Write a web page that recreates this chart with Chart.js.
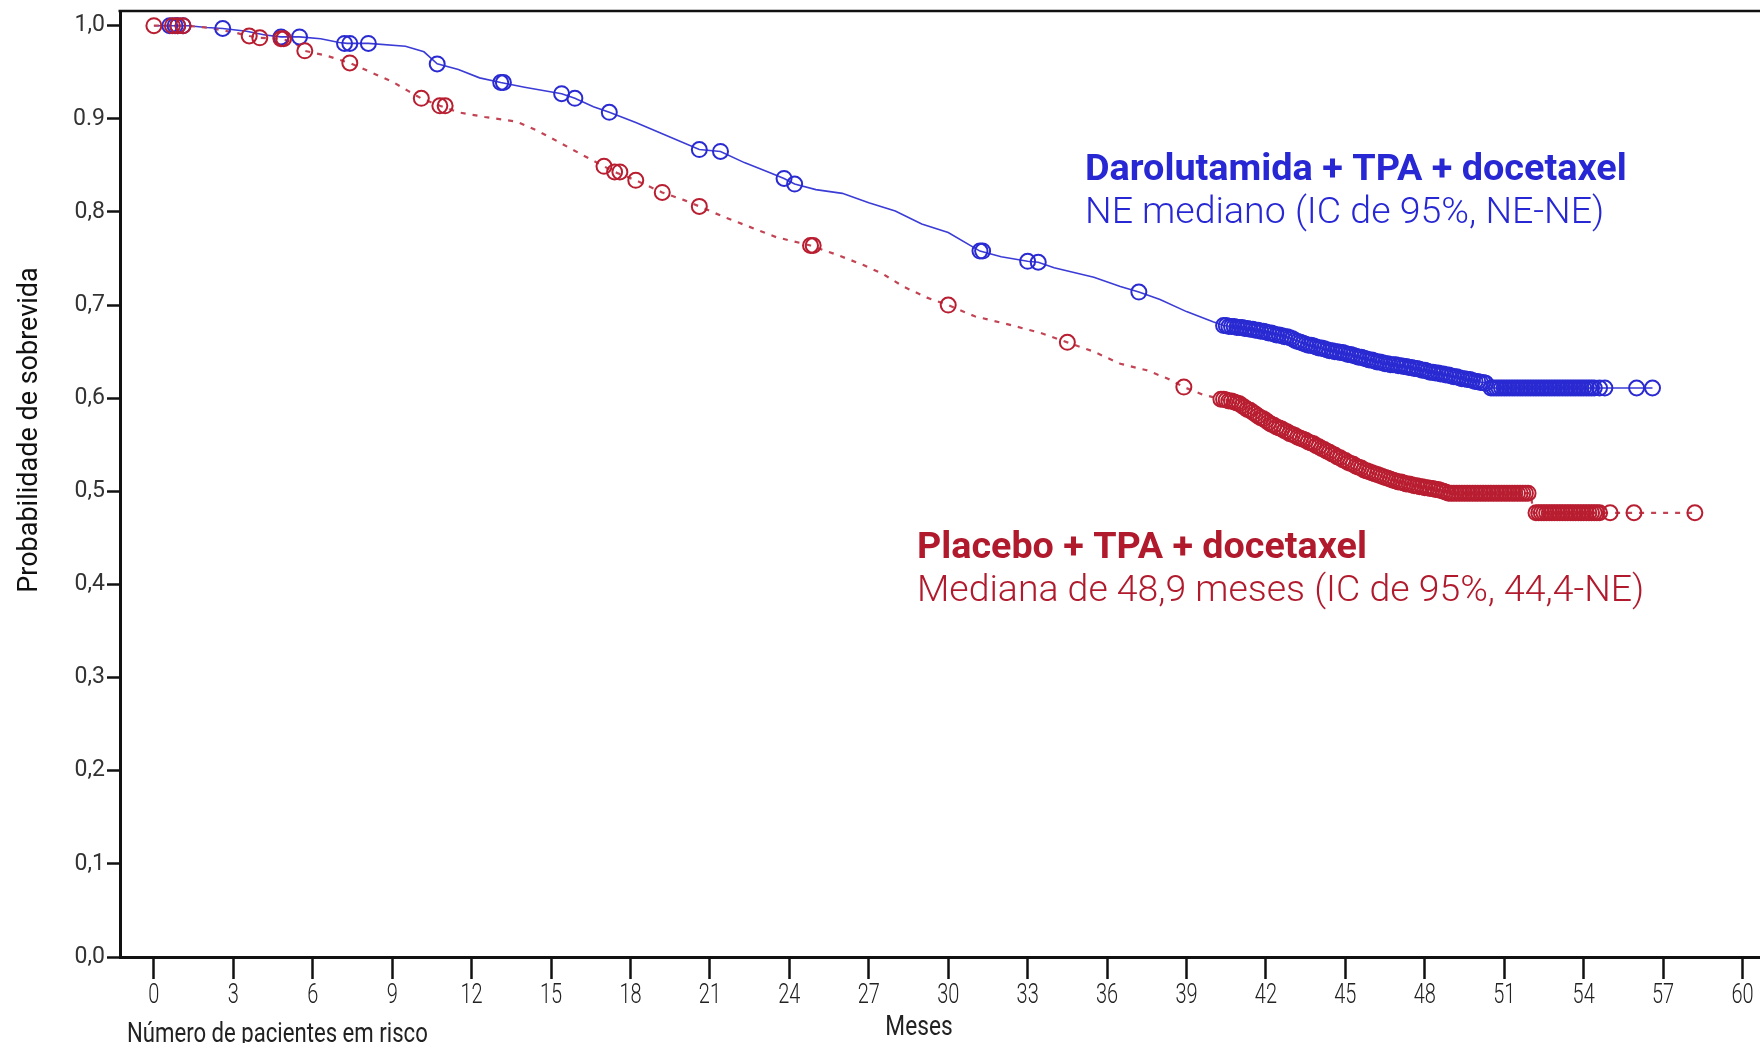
<!DOCTYPE html>
<html>
<head>
<meta charset="utf-8">
<script src="https://cdn.jsdelivr.net/npm/chart.js@4.4.1/dist/chart.umd.min.js"></script>
<style>
  html, body { margin: 0; padding: 0; background: #fff; }
  canvas { display: block; }
</style>
</head>
<body>
<canvas id="km" width="1760" height="1043"></canvas>
<script>
// Kaplan-Meier: Darolutamida vs Placebo (meses, probabilidade de sobrevida)
const blueTimes = [0, 1.3, 2.0, 2.6, 3.5, 4.2, 4.8, 5.5, 6.3, 7.0, 7.3, 8.1, 9.5, 10.2, 10.7, 11.5, 12.3, 13.1, 14.0, 15.4, 15.9, 16.6, 17.2, 18.2, 19.2, 20.6, 21.4, 22.3, 23.2, 23.8, 24.2, 25.0, 26.0, 27.0, 28.0, 29.0, 30.0, 31.2, 32.0, 33.0, 33.4, 34.0, 35.5, 36.5, 37.2, 38.0, 39.0, 40.0, 40.4, 41.0, 42.0, 42.8, 43.5, 44.3, 45.0, 45.8, 46.5, 47.5, 48.2, 49.0, 49.8, 50.35, 50.4, 56.6];
const blueSurv  = [1.0, 1.0, 0.998, 0.997, 0.994, 0.990, 0.988, 0.988, 0.986, 0.982, 0.981, 0.981, 0.978, 0.972, 0.959, 0.953, 0.944, 0.939, 0.934, 0.927, 0.922, 0.913, 0.907, 0.896, 0.884, 0.867, 0.865, 0.853, 0.843, 0.836, 0.830, 0.824, 0.820, 0.810, 0.801, 0.787, 0.778, 0.758, 0.752, 0.747, 0.746, 0.740, 0.730, 0.720, 0.714, 0.706, 0.693, 0.682, 0.678, 0.676, 0.671, 0.666, 0.658, 0.652, 0.648, 0.642, 0.637, 0.633, 0.628, 0.624, 0.619, 0.616, 0.611, 0.611];

const redTimes = [0, 1.2, 2.0, 3.0, 3.6, 4.0, 4.8, 5.3, 5.7, 6.5, 7.4, 8.2, 9.0, 9.6, 10.1, 10.8, 11.5, 12.5, 13.7, 14.5, 15.3, 16.2, 17.0, 17.4, 18.2, 19.2, 20.0, 20.6, 21.5, 22.5, 23.5, 24.8, 25.8, 26.8, 27.5, 28.3, 29.2, 30.0, 31.0, 32.3, 33.5, 34.5, 35.5, 36.5, 37.5, 38.3, 38.9, 39.6, 40.3, 41.0, 41.6, 42.2, 43.0, 43.8, 44.5, 45.2, 45.9, 46.7, 47.5, 48.3, 49.0, 52.0, 52.1, 58.2];
const redSurv  = [1.0, 1.0, 0.998, 0.993, 0.989, 0.987, 0.986, 0.982, 0.973, 0.968, 0.960, 0.950, 0.940, 0.930, 0.922, 0.914, 0.907, 0.902, 0.897, 0.887, 0.875, 0.861, 0.849, 0.843, 0.834, 0.821, 0.813, 0.806, 0.795, 0.784, 0.773, 0.764, 0.754, 0.743, 0.734, 0.720, 0.708, 0.700, 0.688, 0.679, 0.670, 0.660, 0.650, 0.637, 0.630, 0.621, 0.612, 0.604, 0.599, 0.594, 0.583, 0.572, 0.561, 0.551, 0.540, 0.530, 0.521, 0.513, 0.507, 0.503, 0.498, 0.498, 0.477, 0.477];

// censuras (círculos)
const blueCensorTimes = [0.6, 0.8, 0.9, 1.1, 2.6, 4.8, 5.5, 7.2, 7.4, 8.1, 10.7, 13.1, 13.2, 15.4, 15.9, 17.2, 20.6, 21.4, 23.8, 24.2, 31.2, 31.3, 33.0, 33.4, 37.2,
  40.4, 40.5, 40.6, 40.7, 40.8, 40.9, 41.0, 41.1, 41.2, 41.3, 41.4, 41.5, 41.6, 41.7, 41.8, 41.9, 42.0, 42.1, 42.2, 42.3,
  42.4, 42.5, 42.6, 42.7, 42.8, 42.9, 43.0, 43.1, 43.2, 43.3, 43.4, 43.5, 43.6, 43.7, 43.8, 43.9, 44.0, 44.1, 44.2, 44.3,
  44.4, 44.5, 44.6, 44.7, 44.8, 44.9, 45.0, 45.1, 45.2, 45.3, 45.4, 45.5, 45.6, 45.7, 45.8, 45.9, 46.0, 46.1, 46.2, 46.3,
  46.4, 46.5, 46.6, 46.7, 46.8, 46.9, 47.0, 47.1, 47.2, 47.3, 47.4, 47.5, 47.6, 47.7, 47.8, 47.9, 48.0, 48.1, 48.2, 48.3,
  48.4, 48.5, 48.6, 48.7, 48.8, 48.9, 49.0, 49.1, 49.2, 49.3, 49.4, 49.5, 49.6, 49.7, 49.8, 49.9, 50.0, 50.1, 50.2, 50.3,
  50.5, 50.6, 50.7, 50.8, 50.9, 51.0, 51.1, 51.2, 51.3, 51.4, 51.5, 51.6, 51.7, 51.8, 51.9, 52.0, 52.1, 52.2, 52.3, 52.4, 52.5,
  52.6, 52.7, 52.8, 52.9, 53.0, 53.1, 53.2, 53.3, 53.4, 53.5, 53.6, 53.7, 53.8, 53.9, 54.0, 54.1, 54.2, 54.3, 54.4, 54.6, 54.8, 56.0, 56.6];
const blueCensorSurv = [1.0, 1.0, 1.0, 1.0, 0.997, 0.988, 0.988, 0.981, 0.981, 0.981, 0.959, 0.939, 0.939, 0.927, 0.922, 0.907, 0.867, 0.865, 0.836, 0.830, 0.758, 0.758, 0.747, 0.746, 0.714,
  0.678, 0.678, 0.677, 0.677, 0.677, 0.676, 0.676, 0.676, 0.675, 0.675, 0.674, 0.674, 0.673, 0.673, 0.672, 0.672, 0.671, 0.670, 0.670, 0.669,
  0.668, 0.668, 0.667, 0.666, 0.666, 0.665, 0.664, 0.662, 0.661, 0.660, 0.659, 0.658, 0.657, 0.657, 0.656, 0.655, 0.654, 0.654, 0.653, 0.652,
  0.651, 0.651, 0.650, 0.650, 0.649, 0.649, 0.648, 0.647, 0.647, 0.646, 0.645, 0.644, 0.644, 0.643, 0.642, 0.641, 0.641, 0.640, 0.639, 0.639,
  0.638, 0.637, 0.637, 0.636, 0.636, 0.636, 0.635, 0.635, 0.634, 0.634, 0.633, 0.633, 0.632, 0.632, 0.631, 0.630, 0.630, 0.629, 0.628, 0.628,
  0.627, 0.627, 0.626, 0.626, 0.625, 0.625, 0.624, 0.623, 0.623, 0.622, 0.621, 0.621, 0.620, 0.620, 0.619, 0.618, 0.618, 0.617, 0.617, 0.616,
  0.611, 0.611, 0.611, 0.611, 0.611, 0.611, 0.611, 0.611, 0.611, 0.611, 0.611, 0.611, 0.611, 0.611, 0.611, 0.611, 0.611, 0.611, 0.611, 0.611, 0.611,
  0.611, 0.611, 0.611, 0.611, 0.611, 0.611, 0.611, 0.611, 0.611, 0.611, 0.611, 0.611, 0.611, 0.611, 0.611, 0.611, 0.611, 0.611, 0.611, 0.611, 0.611, 0.611, 0.611, 0.611];

const redCensorTimes = [0, 0.7, 0.9, 1.1, 3.6, 4.0, 4.8, 4.9, 5.7, 7.4, 10.1, 10.8, 11.0, 17.0, 17.4, 17.6, 18.2, 19.2, 20.6, 24.8, 24.9, 30.0, 34.5, 38.9,
  40.3, 40.4, 40.5, 40.6, 40.7, 40.8, 40.9, 41.0, 41.1, 41.2, 41.3, 41.4, 41.5, 41.6, 41.7, 41.8, 41.9, 42.0, 42.1, 42.2,
  42.3, 42.4, 42.5, 42.6, 42.7, 42.8, 42.9, 43.0, 43.1, 43.2, 43.3, 43.4, 43.5, 43.6, 43.7, 43.8, 43.9, 44.0, 44.1, 44.2,
  44.3, 44.4, 44.5, 44.6, 44.7, 44.8, 44.9, 45.0, 45.1, 45.2, 45.3, 45.4, 45.5, 45.6, 45.7, 45.8, 45.9, 46.0, 46.1, 46.2,
  46.3, 46.4, 46.5, 46.6, 46.7, 46.8, 46.9, 47.0, 47.1, 47.2, 47.3, 47.4, 47.5, 47.6, 47.7, 47.8, 47.9, 48.0, 48.1, 48.2,
  48.3, 48.4, 48.5, 48.6, 48.7, 48.8, 48.9,
  49.0, 49.1, 49.2, 49.3, 49.4, 49.5, 49.6, 49.7, 49.8, 49.9, 50.0, 50.1, 50.2, 50.3, 50.4, 50.5, 50.6, 50.7, 50.8, 50.9, 51.0, 51.1, 51.2, 51.3, 51.4, 51.5, 51.6, 51.7, 51.8, 51.9,
  52.2, 52.3, 52.4, 52.5, 52.6, 52.7, 52.8, 52.9, 53.0, 53.1, 53.2, 53.3, 53.4, 53.5, 53.6, 53.7, 53.8, 53.9, 54.0, 54.1, 54.2, 54.3, 54.4, 54.5, 54.6, 55.0, 55.9, 58.2];
const redCensorSurv = [1.0, 1.0, 1.0, 1.0, 0.989, 0.987, 0.986, 0.986, 0.973, 0.960, 0.922, 0.914, 0.914, 0.849, 0.843, 0.843, 0.834, 0.821, 0.806, 0.764, 0.764, 0.700, 0.660, 0.612,
  0.599, 0.599, 0.598, 0.597, 0.597, 0.596, 0.595, 0.594, 0.592, 0.590, 0.588, 0.587, 0.585, 0.583, 0.581, 0.579, 0.578, 0.576, 0.574, 0.572,
  0.571, 0.569, 0.568, 0.567, 0.565, 0.564, 0.562, 0.561, 0.560, 0.558, 0.557, 0.556, 0.555, 0.553, 0.552, 0.551, 0.549, 0.548, 0.546, 0.545,
  0.543, 0.542, 0.540, 0.539, 0.537, 0.536, 0.534, 0.533, 0.531, 0.530, 0.529, 0.527, 0.526, 0.525, 0.523, 0.522, 0.521, 0.520, 0.519, 0.518,
  0.517, 0.516, 0.515, 0.514, 0.513, 0.512, 0.511, 0.510, 0.510, 0.509, 0.508, 0.508, 0.507, 0.506, 0.506, 0.505, 0.505, 0.504, 0.504, 0.503,
  0.503, 0.502, 0.502, 0.501, 0.500, 0.499, 0.498,
  0.498, 0.498, 0.498, 0.498, 0.498, 0.498, 0.498, 0.498, 0.498, 0.498, 0.498, 0.498, 0.498, 0.498, 0.498, 0.498, 0.498, 0.498, 0.498, 0.498, 0.498, 0.498, 0.498, 0.498, 0.498, 0.498, 0.498, 0.498, 0.498, 0.498,
  0.477, 0.477, 0.477, 0.477, 0.477, 0.477, 0.477, 0.477, 0.477, 0.477, 0.477, 0.477, 0.477, 0.477, 0.477, 0.477, 0.477, 0.477, 0.477, 0.477, 0.477, 0.477, 0.477, 0.477, 0.477, 0.477, 0.477, 0.477];

const xTicks = [0, 3, 6, 9, 12, 15, 18, 21, 24, 27, 30, 33, 36, 39, 42, 45, 48, 51, 54, 57, 60];
const yTicks = [0, 0.1, 0.2, 0.3, 0.4, 0.5, 0.6, 0.7, 0.8, 0.9, 1.0];
const yTickLabels = ['0,0', '0,1', '0,2', '0,3', '0,4', '0,5', '0,6', '0,7', '0,8', '0.9', '1,0'];

const BLUE_LINE = '#3b3bd6';
const BLUE_MARK = '#2a2ad2';
const RED_LINE = '#c24454';
const RED_MARK = '#b81d30';
const BLUE_TEXT = '#2727d4';
const RED_TEXT = '#b01a2c';

function pts(xs, ys) {
    return xs.map((x, i) => ({ x: x, y: ys[i] }));
}

function noPadding(s) {
    s.paddingTop = 0;
    s.paddingBottom = 0;
    s.paddingLeft = 0;
    s.paddingRight = 0;
}

// textos fora do Chart.js (eixo X condensado, títulos, legendas)
const textPlugin = {
    id: 'kmText',
    afterDraw(chart) {
        const ctx = chart.ctx;
        const ca = chart.chartArea;
        const xs = chart.scales.x;
        ctx.save();

        // borda superior
        ctx.strokeStyle = '#111';
        ctx.lineWidth = 2.5;
        ctx.beginPath();
        ctx.moveTo(ca.left - 1.5, ca.top);
        ctx.lineTo(ca.right, ca.top);
        ctx.stroke();

        // rótulos do eixo X
        ctx.fillStyle = '#222';
        ctx.textBaseline = 'alphabetic';
        ctx.textAlign = 'center';
        ctx.font = '300 27px Roboto';
        xs.ticks.forEach(t => {
            const px = xs.getPixelForValue(t.value);
            ctx.save();
            ctx.translate(px, ca.bottom + 46);
            ctx.scale(0.74, 1);
            ctx.fillText(String(t.value), 0, 0);
            ctx.restore();
        });

        ctx.font = '400 27px Roboto';
        ctx.save();
        ctx.translate(919, ca.bottom + 78);
        ctx.scale(0.84, 1);
        ctx.fillText('Meses', 0, 0);
        ctx.restore();

        ctx.textAlign = 'left';
        ctx.save();
        ctx.translate(127, ca.bottom + 85);
        ctx.scale(0.82, 1);
        ctx.fillText('Número de pacientes em risco', 0, 0);
        ctx.restore();

        // título do eixo Y
        ctx.save();
        ctx.translate(37, 430);
        ctx.rotate(-Math.PI / 2);
        ctx.textAlign = 'center';
        ctx.fillStyle = '#111';
        ctx.font = '400 27px Roboto';
        ctx.fillText('Probabilidade de sobrevida', 0, 0);
        ctx.restore();

        // legendas
        ctx.textAlign = 'left';
        ctx.fillStyle = BLUE_TEXT;
        ctx.font = '700 37.8px Roboto';
        ctx.fillText('Darolutamida + TPA + docetaxel', 1085, 180);
        ctx.font = '300 37.5px Roboto';
        ctx.fillText('NE mediano (IC de 95%, NE-NE)', 1085, 223);

        ctx.fillStyle = RED_TEXT;
        ctx.font = '700 37.7px Roboto';
        ctx.fillText('Placebo + TPA + docetaxel', 917, 558);
        ctx.font = '300 37.4px Roboto';
        ctx.fillText('Mediana de 48,9 meses (IC de 95%, 44,4-NE)', 917, 601);

        ctx.restore();
    }
};

const axisGrid = (len) => ({
    display: true,
    drawOnChartArea: false,
    drawTicks: true,
    tickLength: len,
    tickWidth: 2.5,
    tickColor: '#111'
});

new Chart(document.getElementById('km'), {
    type: 'line',
    data: {
        datasets: [
            {
                label: 'Darolutamida censura',
                type: 'scatter',
                data: pts(blueCensorTimes, blueCensorSurv),
                borderColor: BLUE_MARK,
                backgroundColor: 'rgba(0,0,0,0)',
                pointRadius: 7.5,
                pointBorderWidth: 2,
                showLine: false,
                order: 1
            },
            {
                label: 'Placebo censura',
                type: 'scatter',
                data: pts(redCensorTimes, redCensorSurv),
                borderColor: RED_MARK,
                backgroundColor: 'rgba(0,0,0,0)',
                pointRadius: 7.5,
                pointBorderWidth: 2,
                showLine: false,
                order: 0
            },
            {
                label: 'Darolutamida + TPA + docetaxel',
                data: pts(blueTimes, blueSurv),
                borderColor: BLUE_LINE,
                borderWidth: 1.6,
                pointRadius: 0,
                tension: 0,
                fill: false,
                order: 3
            },
            {
                label: 'Placebo + TPA + docetaxel',
                data: pts(redTimes, redSurv),
                borderColor: RED_LINE,
                borderWidth: 2.2,
                borderDash: [5, 7],
                pointRadius: 0,
                tension: 0,
                fill: false,
                order: 2
            }
        ]
    },
    options: {
        responsive: false,
        animation: false,
        devicePixelRatio: 1,
        layout: { autoPadding: false, padding: { top: 11, right: 0, bottom: 0, left: 0 } },
        plugins: {
            legend: { display: false },
            tooltip: { enabled: false }
        },
        scales: {
            x: {
                type: 'linear',
                min: -1.28,
                max: 60.66,
                afterBuildTicks: s => { s.ticks = xTicks.map(v => ({ value: v })); },
                afterFit: s => { s.height = 86; noPadding(s); },
                grid: axisGrid(22),
                border: { display: true, color: '#111', width: 3 },
                ticks: { display: false }
            },
            y: {
                type: 'linear',
                min: 0,
                max: 1.0158,
                afterBuildTicks: s => { s.ticks = yTicks.map(v => ({ value: v })); },
                afterFit: s => { s.width = 120; noPadding(s); },
                grid: axisGrid(13),
                border: { display: true, color: '#111', width: 3 },
                ticks: {
                    callback: (v, i) => yTickLabels[i],
                    font: { family: 'Roboto', size: 23, weight: 400 },
                    color: '#333',
                    padding: 2
                }
            }
        }
    },
    plugins: [textPlugin]
});
</script>
</body>
</html>
